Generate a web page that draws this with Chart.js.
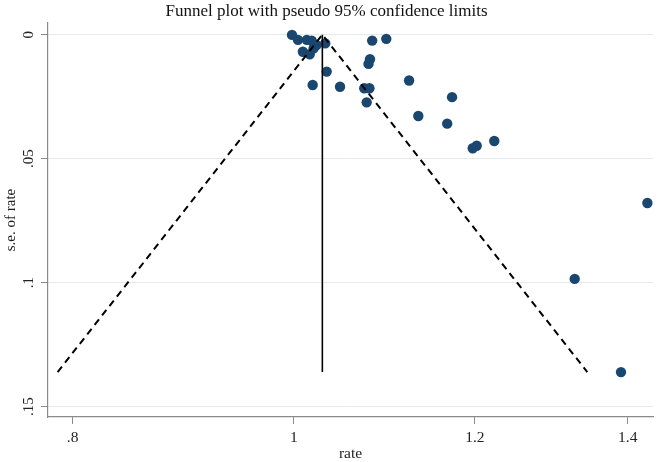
<!DOCTYPE html>
<html>
<head>
<meta charset="utf-8">
<script src="https://cdn.jsdelivr.net/npm/chart.js@4/dist/chart.umd.min.js"></script>
<style>
  html, body { margin: 0; padding: 0; background: #ffffff; }
  #wrap { width: 661px; height: 462px; }
</style>
</head>
<body>
<div id="wrap"><canvas id="c" width="661" height="462"></canvas></div>
<script>
// ---- Data ----
const rate = [0.998, 1.004, 1.013, 1.018, 1.023, 1.009, 1.016, 1.020, 1.032, 1.0335,
              1.019, 1.0475, 1.0734, 1.079, 1.076, 1.082, 1.0975, 1.0796, 1.078, 1.123,
              1.1335, 1.1727, 1.167, 1.1974, 1.2022, 1.2237, 1.4279, 1.327, 1.3904];
const seRate = [0.0001, 0.0021, 0.0021, 0.0024, 0.0042, 0.0069, 0.0079, 0.0055, 0.0035, 0.0149,
                0.0203, 0.0210, 0.0216, 0.0216, 0.0273, 0.0024, 0.0017, 0.0099, 0.0118, 0.0185,
                0.0328, 0.0252, 0.0359, 0.0458, 0.0448, 0.0429, 0.0679, 0.0985, 0.1361];
// pooled estimate line (x, se endpoints)
const pooledX = [1.029, 1.029];
const pooledSE = [0, 0.1361];
// pseudo 95% limits (left end, apex, right end)
const limitsX = [0.788, 1.029, 1.344];
const limitsSE = [0.1361, 0, 0.1361];
// axes
const xTickValues = [0.8, 1, 1.2, 1.4];
const xTickLabels = ['.8', '1', '1.2', '1.4'];
const yTickValues = [0, 0.05, 0.1, 0.15];
const yTickLabels = ['0', '.05', '.1', '.15'];
const titleText = 'Funnel plot with pseudo 95% confidence limits';
const xTitle = 'rate';
const yTitle = 's.e. of rate';

const SERIF = '"Liberation Serif", "Times New Roman", serif';
const toPts = (xs, ys) => xs.map((x, i) => ({ x: x, y: ys[i] }));

const yLabelPlugin = {
  id: 'yLabels',
  afterDraw(chart) {
    const ctx = chart.ctx;
    const ys = chart.scales.y;
    ctx.save();
    ctx.fillStyle = '#222';
    ctx.font = '15px ' + SERIF;
    ctx.textAlign = 'center';
    ctx.textBaseline = 'middle';
    yTickValues.forEach((v, i) => {
      const py = ys.getPixelForValue(v);
      ctx.save();
      ctx.translate(29, py);
      ctx.rotate(-Math.PI / 2);
      ctx.fillText(yTickLabels[i], 0, 0);
      ctx.restore();
    });
    ctx.restore();
  }
};

new Chart(document.getElementById('c'), {
  type: 'scatter',
  data: {
    datasets: [
      {
        label: 'pooled',
        type: 'line',
        data: toPts(pooledX, pooledSE),
        borderColor: '#000',
        borderWidth: 1.6,
        pointRadius: 0,
        fill: false,
        tension: 0
      },
      {
        label: 'limits',
        type: 'line',
        data: toPts(limitsX, limitsSE),
        borderColor: '#000',
        borderWidth: 2,
        borderDash: [7, 5],
        pointRadius: 0,
        fill: false,
        tension: 0
      },
      {
        label: 'studies',
        data: toPts(rate, seRate),
        backgroundColor: '#1a476f',
        borderColor: '#1a476f',
        borderWidth: 0,
        pointRadius: 5.2,
        pointHoverRadius: 5.2
      }
    ]
  },
  options: {
    responsive: false,
    animation: false,
    devicePixelRatio: 1,
    layout: { padding: { left: 0, right: 8, top: 0, bottom: 0 } },
    plugins: {
      legend: { display: false },
      tooltip: { enabled: false },
      title: {
        display: true,
        text: titleText,
        color: '#111',
        font: { family: SERIF, size: 17, weight: 'normal', lineHeight: 1.0 },
        padding: { top: 3, bottom: 3 }
      }
    },
    scales: {
      x: {
        type: 'logarithmic',
        min: 0.7804,
        max: 1.436,
        afterBuildTicks(scale) { scale.ticks = xTickValues.map(v => ({ value: v })); },
        afterFit(scale) { scale.height = 45; },
        ticks: {
          autoSkip: false,
          maxRotation: 0,
          color: '#222',
          font: { family: SERIF, size: 15.5 },
          padding: 5,
          callback(value) {
            const i = xTickValues.findIndex(v => Math.abs(v - value) < 1e-9);
            return i >= 0 ? xTickLabels[i] : '';
          }
        },
        grid: { drawOnChartArea: false, drawTicks: true, tickLength: 7, tickColor: '#8a8a8a', lineWidth: 1 },
        border: { display: true, color: '#8a8a8a', width: 1.2 },
        title: {
          display: true,
          text: xTitle,
          color: '#222',
          font: { family: SERIF, size: 15.5, lineHeight: 1.0 },
          padding: { top: 0, bottom: 0 }
        }
      },
      y: {
        type: 'linear',
        reverse: true,
        min: -0.0047,
        max: 0.1542,
        afterBuildTicks(scale) { scale.ticks = yTickValues.map(v => ({ value: v })); },
        afterFit(scale) { scale.width = 48; },
        ticks: { display: false },
        grid: { drawOnChartArea: true, drawTicks: true, tickLength: 7, color: '#e3ebee', tickColor: '#8a8a8a', lineWidth: 1 },
        border: { display: true, color: '#8a8a8a', width: 1.2 },
        title: {
          display: true,
          text: yTitle,
          color: '#222',
          font: { family: SERIF, size: 15 },
          padding: { top: 2, bottom: 0 }
        }
      }
    }
  },
  plugins: [yLabelPlugin]
});
</script>
</body>
</html>
